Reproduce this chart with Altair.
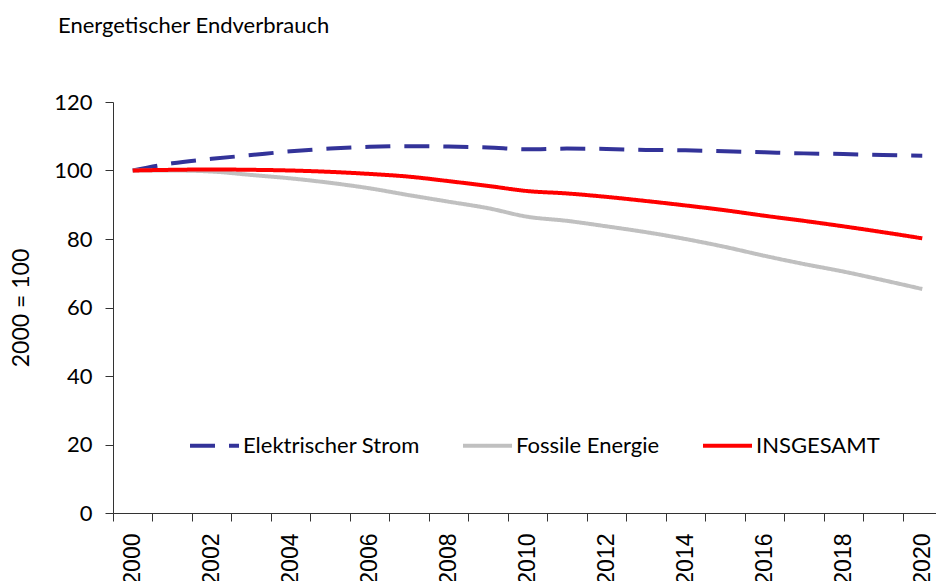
import altair as alt
import pandas as pd

years = [str(y) for y in range(2000, 2021)]
series_names = ["Elektrischer Strom", "Fossile Energie", "INSGESAMT"]
strom = [100.0, 102.1, 103.4, 104.5, 105.6, 106.4, 106.9, 107.1, 107.0, 106.7,
         106.2, 106.4, 106.3, 106.0, 105.9, 105.6, 105.3, 105.0, 104.8, 104.5, 104.3]
fossil = [100.0, 100.0, 99.7, 98.7, 97.7, 96.4, 94.8, 92.8, 90.9, 89.0,
          86.5, 85.3, 83.7, 82.0, 80.0, 77.7, 75.1, 72.7, 70.5, 68.0, 65.4]
gesamt = [100.0, 100.2, 100.3, 100.2, 100.0, 99.6, 99.0, 98.2, 96.9, 95.5,
          94.0, 93.3, 92.3, 91.1, 89.8, 88.4, 86.8, 85.3, 83.7, 82.0, 80.2]

rows = []
for name, vals in zip(series_names, [strom, fossil, gesamt]):
    for y, v in zip(years, vals):
        rows.append({"Jahr": y, "Wert": v, "Reihe": name})
df = pd.DataFrame(rows)

colors = ["#333399", "#C0C0C0", "#FF0000"]
dashes = [[25, 14], [1, 0], [1, 0]]

chart = alt.Chart(df).mark_line(strokeWidth=4, interpolate="monotone").encode(
    x=alt.X("Jahr:O", bandPosition=0.5,
            scale=alt.Scale(type="band", paddingInner=0, paddingOuter=0),
            axis=alt.Axis(title=None, labelAngle=270, tickBand="extent",
                          labelExpr="toNumber(datum.value) % 2 == 0 ? datum.value : ''",
                          labelFont="Liberation Sans", labelFontSize=23,
                          labelPadding=12, tickSize=8, labelColor="#000",
                          domainColor="#333", tickColor="#333", grid=False)),
    y=alt.Y("Wert:Q", scale=alt.Scale(domain=[0, 120], nice=False),
            axis=alt.Axis(title="2000 = 100", values=[0, 20, 40, 60, 80, 100, 120],
                          labelFont="Lato", labelFontSize=22, labelColor="#000",
                          labelPadding=13, tickSize=8, titleFont="Lato",
                          titleFontSize=23, titleFontWeight="normal", titleColor="#000",
                          titlePadding=20, domainColor="#333", tickColor="#333", grid=False)),
    color=alt.Color("Reihe:N", scale=alt.Scale(domain=series_names, range=colors),
                    legend=alt.Legend(title=None, orient="none", legendX=75, legendY=317,
                                      direction="horizontal", symbolType="stroke",
                                      symbolSize=2400, symbolStrokeWidth=4,
                                      labelFont="Lato", labelFontSize=22, labelColor="#000",
                                      labelOffset=2, labelLimit=400, columnPadding=35,
                                      padding=0)),
    strokeDash=alt.StrokeDash("Reihe:N", scale=alt.Scale(domain=series_names, range=dashes),
                              legend=None),
).properties(
    width=829, height=411,
    title=alt.TitleParams("Energetischer Endverbrauch", anchor="start", frame="group",
                          dx=-55, offset=53, font="Lato", fontSize=22,
                          fontWeight="normal", color="#000"),
    autosize=alt.AutoSizeParams(type="none"),
    padding={"left": 105, "top": 94, "right": -6, "bottom": 68},
).configure_view(stroke=None)

chart.save("out.html", embed_options={"renderer": "svg", "actions": False})
